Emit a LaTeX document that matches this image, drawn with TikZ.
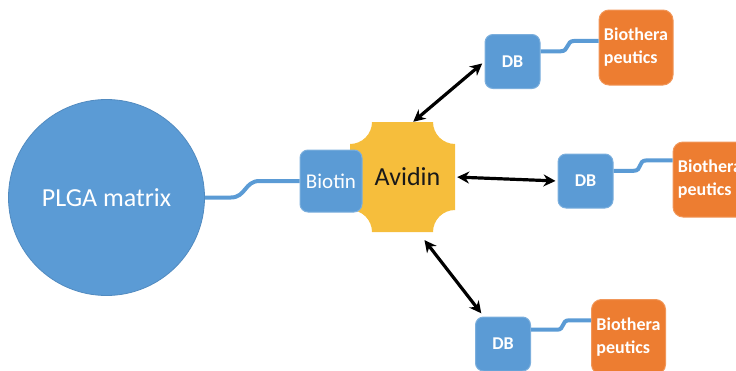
\documentclass[tikz,border=0pt]{standalone}
\usepackage{fontspec}
\setmainfont{Carlito}
\usetikzlibrary{arrows.meta,calc}
\definecolor{plgablue}{RGB}{91,155,213}
\definecolor{bioorange}{RGB}{237,125,49}
\definecolor{avidinyellow}{RGB}{246,190,60}
\begin{document}
\begin{tikzpicture}[x=1pt,y=-1pt,
  bluebox/.style={fill=plgablue, draw=plgablue!80!white, line width=1pt,
    rounded corners=8pt, inner sep=0pt, text=white},
  dbbox/.style={bluebox, minimum width=55pt, minimum height=54pt,
    font=\fontsize{18}{22}\selectfont\bfseries},
  biobox/.style={fill=bioorange, draw=bioorange!80!white, line width=1pt,
    rounded corners=10pt, inner sep=0pt, minimum width=74pt, minimum height=75pt,
    text=white, align=left, font=\fontsize{18}{23}\selectfont\bfseries},
  link/.style={draw=plgablue, line width=4pt},
  dbl/.style={{Stealth[length=12pt,width=12pt]}-{Stealth[length=12pt,width=12pt]},
    line width=3.2pt, black},
]
\clip (0,0) rectangle (736,370);

% PLGA particle
\node[circle, fill=plgablue, draw=plgablue!90!black, line width=0.8pt,
  minimum size=196pt, inner sep=0pt, text=white,
  font=\fontsize{26}{30}\selectfont] (plga) at (106.5,197.5) {PLGA matrix};

% Avidin: plaque shape with concave corners
\node[minimum width=105pt, minimum height=110pt, inner sep=0pt] (avidin) at (402.5,177) {};
\fill[avidinyellow] (372,122) -- (433,122)
  .. controls (433,134.1) and (442.9,144) .. (455,144) -- (455,210)
  .. controls (442.9,210) and (433,219.9) .. (433,232) -- (372,232)
  .. controls (372,219.9) and (362.1,210) .. (350,210) -- (350,144)
  .. controls (362.1,144) and (372,134.1) .. (372,122) -- cycle;
\node[font=\fontsize{26}{30}\selectfont, text=black!90] (avidinlabel) at (407.5,177) {Avidin};

% Biotin linker on the particle
\node[bluebox, minimum width=62pt, minimum height=62pt,
  font=\fontsize{21}{24}\selectfont] (biotin) at (331,181) {Biotin};

% DB units and their payloads
\node[dbbox] (db1) at (512.5,61.5) {DB};
\node[dbbox] (db2) at (585.5,181) {DB};
\node[dbbox] (db3) at (503,344) {DB};

\node[biobox] (bio1) at (636,47.5) {Biothera\\peutics};
\node[biobox] (bio2) at (710,179.5) {Biothera\\peutics};
\node[biobox] (bio3) at (628.5,337) {Biothera\\peutics};

% tethers
\draw[link] (plga.east) -- ++(26,0) .. controls +(15,0) and +(-15,0) ..
  ($(biotin.west)+(-40,0)$) -- (biotin.west);
\draw[link] (db1.20) -- ++(20,0) .. controls +(9,0) and +(-9,0) ..
  ($(bio1.170)+(-24,0)$) -- (bio1.170);
\draw[link] (db2.20) -- ++(20,0) .. controls +(9,0) and +(-9,0) ..
  ($(bio2.153)+(-26,0)$) -- (bio2.153);
\draw[link] (db3.27) -- ++(26,0) .. controls +(8,0) and +(-8,0) ..
  ($(bio3.156)+(-22,0)$) -- (bio3.156);

% binding arrows
\draw[dbl, shorten >=3pt] (avidin.79) -- (db1.west);
\draw[dbl, shorten <=2pt, shorten >=2pt] (avidin.east) -- (db2.west);
\draw[dbl, shorten <=10pt, shorten >=4pt] (avidin.-74) -- (db3.125);
\end{tikzpicture}
\end{document}
